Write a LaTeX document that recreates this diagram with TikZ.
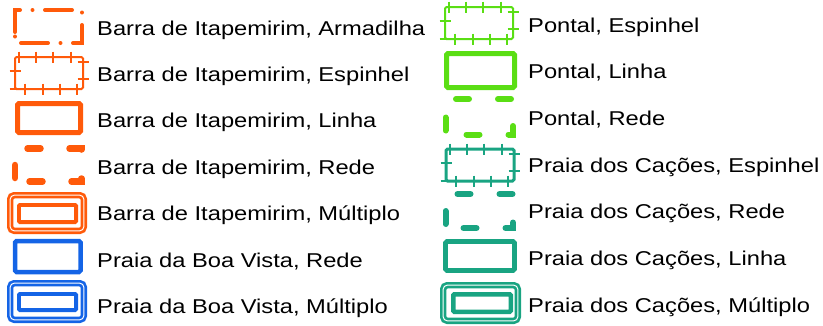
\documentclass[tikz,border=0pt]{standalone}
\usepackage{fontspec}
\setmainfont{Liberation Sans}[FakeStretch=1.185]

\definecolor{barra}{HTML}{FF5A0A}
\definecolor{boavista}{HTML}{1464E6}
\definecolor{pontal}{HTML}{5ADE14}
\definecolor{cacoes}{HTML}{19A482}

\begin{document}
\begin{tikzpicture}[x=1pt, y=-1pt,
    lbl/.style={anchor=base west, inner sep=0pt, font=\fontsize{20}{24}\selectfont},
    armadilha/.style={line width=4pt, line cap=round, dash pattern=on 27pt off 12.5pt on 0pt off 12.5pt},
    espinhel/.style={line width=2pt, rounded corners=1.5pt},
    linha/.style={line width=5pt, rounded corners=1.5pt},
    rede/.style={line width=6.5pt, line cap=round, dash pattern=on 13pt off 29pt},
    multiplo/.style={line width=2.7pt, double=white, double distance=1pt, rounded corners=4pt},
    interno/.style={line width=3.8pt, rounded corners=1pt}]
    \useasboundingbox (0,0) rectangle (823,325);

    % Left column
    % Barra de Itapemirim, Armadilha
    \draw[armadilha, barra] (15,32) -- (15,10) -- (82,10) -- (82,43) -- (15,43) -- cycle;
    \node[lbl] (bi-arm) at (97,35) {Barra de Itapemirim, Armadilha};

    % Barra de Itapemirim, Espinhel
    \begin{scope}[shift={(15,57)}, barra]
        \draw[espinhel] (0,0) rectangle (68,32);
        \foreach \t in {3.5,21,38,56} \draw[espinhel] (\t,-5.5) -- (\t,5.5);
        \foreach \t in {9.5,27.5,44.5,62} \draw[espinhel] (\t,26.5) -- (\t,37.5);
        \foreach \t in {4.5,21.5} \draw[espinhel] (62.5,\t) -- (73.5,\t);
        \foreach \t in {14,31.5} \draw[espinhel] (-5.5,\t) -- (5.5,\t);
    \end{scope}
    \node[lbl] (bi-esp) at (97,81.4) {Barra de Itapemirim, Espinhel};

    % Barra de Itapemirim, Linha
    \draw[linha, barra] (17.5,103.5) rectangle (80.5,132.5);
    \node[lbl] (bi-lin) at (97,127.8) {Barra de Itapemirim, Linha};

    % Barra de Itapemirim, Rede
    \begin{scope}[shift={(15,148.5)}]
        \draw[rede, barra] (0,29.5) -- (0,0) -- (66.5,0) -- (66.5,33) -- (0,33) -- cycle;
    \end{scope}
    \node[lbl] (bi-red) at (97,174.2) {Barra de Itapemirim, Rede};

    % Barra de Itapemirim, Multiplo
    \draw[multiplo, barra] (10.2,195.2) rectangle (83.8,230.8);
    \draw[interno, barra] (18.9,204.9) rectangle (76.1,222.1);
    \node[lbl] (bi-mul) at (97,220.6) {Barra de Itapemirim, Múltiplo};

    % Praia da Boa Vista, Rede
    \draw[linha, boavista, line width=4.5pt] (15,241) rectangle (80.5,272);
    \node[lbl] (bv-red) at (97,267) {Praia da Boa Vista, Rede};

    % Praia da Boa Vista, Multiplo
    \draw[multiplo, boavista] (10.2,283.2) rectangle (83.8,319.8);
    \draw[interno, boavista] (18.9,293.9) rectangle (76.1,310.1);
    \node[lbl] (bv-mul) at (97,313.4) {Praia da Boa Vista, Múltiplo};

    % Right column
    % Pontal, Espinhel
    \begin{scope}[shift={(445,7)}, pontal]
        \draw[espinhel] (0,0) rectangle (68,32);
        \foreach \t in {3.5,21,38,56} \draw[espinhel] (\t,-5.5) -- (\t,5.5);
        \foreach \t in {9.5,27.5,44.5,62} \draw[espinhel] (\t,26.5) -- (\t,37.5);
        \foreach \t in {4.5,21.5} \draw[espinhel] (62.5,\t) -- (73.5,\t);
        \foreach \t in {14,31.5} \draw[espinhel] (-5.5,\t) -- (5.5,\t);
    \end{scope}
    \node[lbl] (po-esp) at (528,32) {Pontal, Espinhel};

    % Pontal, Linha
    \draw[linha, pontal] (446.5,53.5) rectangle (514.5,87.5);
    \node[lbl] (po-lin) at (528,78.7) {Pontal, Linha};

    % Pontal, Rede
    \begin{scope}[shift={(445.5,99)}]
        \draw[rede, pontal, line width=6pt] (0,31.5) -- (0,0) -- (67.5,0) -- (67.5,35.5) -- (0,35.5) -- cycle;
    \end{scope}
    \node[lbl] (po-red) at (528,125.3) {Pontal, Rede};

    % Praia dos Cacoes, Espinhel
    \begin{scope}[shift={(446,149)}, cacoes]
        \draw[espinhel, line width=3pt] (0,0) rectangle (68,32);
        \foreach \t in {3.5,21,38,56} \draw[espinhel] (\t,-5.5) -- (\t,5.5);
        \foreach \t in {9.5,27.5,44.5,62} \draw[espinhel] (\t,26.5) -- (\t,37.5);
        \foreach \t in {4.5,21.5} \draw[espinhel] (62.5,\t) -- (73.5,\t);
        \foreach \t in {14,31.5} \draw[espinhel] (-5.5,\t) -- (5.5,\t);
    \end{scope}
    \node[lbl] (pc-esp) at (528,172) {Praia dos Cações, Espinhel};

    % Praia dos Cacoes, Rede
    \begin{scope}[shift={(445.5,194)}]
        \draw[rede, cacoes, line width=6pt] (0,30) -- (0,0) -- (67.5,0) -- (67.5,34) -- (0,34) -- cycle;
    \end{scope}
    \node[lbl] (pc-red) at (528,218.7) {Praia dos Cações, Rede};

    % Praia dos Cacoes, Linha
    \draw[linha, cacoes, line width=4.7pt] (445.5,241.5) rectangle (514.5,270.5);
    \node[lbl] (pc-lin) at (528,265.3) {Praia dos Cações, Linha};

    % Praia dos Cacoes, Multiplo
    \draw[multiplo, cacoes] (443.2,285.2) rectangle (517.8,320.8);
    \draw[interno, cacoes, line width=4.5pt] (453.25,294.25) rectangle (510.75,311.75);
    \node[lbl] (pc-mul) at (528,312) {Praia dos Cações, Múltiplo};
\end{tikzpicture}
\end{document}
